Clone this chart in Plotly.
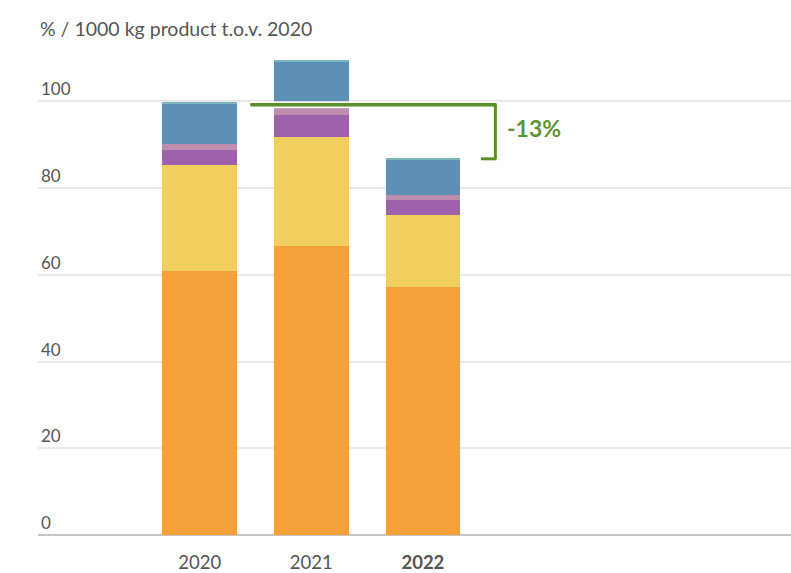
import plotly.graph_objects as go

years = ["2020", "2021", "2022"]
tick_labels = ["2020", "2021", "<b>2022</b>"]
orange = [60.9, 66.6, 57.2]
yellow = [24.4, 25.1, 16.5]
purple = [3.4, 5.1, 3.5]
light_purple = [1.4, 2.4, 1.2]
blue = [9.3, 10.0, 8.2]
teal = [0.3, 0.3, 0.15]
y_ticks = [0, 20, 40, 60, 80, 100]
change_label = "-13%"

series = [
    ("orange", orange, "#f5a13a"),
    ("yellow", yellow, "#f0cf5e"),
    ("purple", purple, "#9e62ad"),
    ("light purple", light_purple, "#bf8dae"),
    ("blue", blue, "#5e8fb6"),
    ("teal", teal, "#7db5bf"),
]

xpos = list(range(len(years)))
fig = go.Figure()
for name, vals, col in series:
    fig.add_trace(go.Bar(x=xpos, y=vals, name=name, marker=dict(color=col, line=dict(width=0)),
                         width=0.67, showlegend=False, hoverinfo="y"))

totals = [sum(s[1][i] for s in series) for i in range(len(years))]
ref = totals[0] - 0.5
end = totals[2]

green = "#5a8f2c"
fig.add_shape(type="line", x0=0.453, x1=2.66, y0=ref, y1=ref, xref="x", yref="y",
              line=dict(color="white", width=7), layer="above")
fig.add_shape(type="line", x0=0.453, x1=2.66, y0=ref, y1=ref, xref="x", yref="y",
              line=dict(color=green, width=3.5), layer="above")
fig.add_shape(type="line", x0=2.65, x1=2.65, y0=ref, y1=end, xref="x", yref="y",
              line=dict(color=green, width=3), layer="above")
fig.add_shape(type="line", x0=2.52, x1=2.66, y0=end, y1=end, xref="x", yref="y",
              line=dict(color=green, width=3), layer="above")
fig.add_annotation(x=2.74, y=(ref + end) / 2 + 0.8, xref="x", yref="y", text="<b>" + change_label + "</b>",
                   showarrow=False, xanchor="left", yanchor="middle",
                   font=dict(size=23, color="#5f9434", family="Lato"))

fig.add_annotation(x=0, y=1, xref="paper", yref="paper", text="% / 1000 kg product t.o.v. 2020",
                   showarrow=False, xanchor="left", yanchor="bottom", yshift=16,
                   font=dict(size=19.5, color="#555555", family="Lato"))

fig.update_layout(
    barmode="stack",
    width=791, height=573,
    margin=dict(l=38, r=0, t=58, b=36),
    plot_bgcolor="white", paper_bgcolor="white",
    font=dict(family="Lato", color="#555555", size=16),
    bargap=0,
)
fig.update_xaxes(range=[-1.45, 5.3], tickvals=xpos, ticktext=tick_labels, showgrid=False,
                 showline=False, zeroline=False, ticks="", ticklabelstandoff=14,
                 tickfont=dict(size=18.5, color="#555555"))
fig.update_yaxes(range=[0, 110], tickvals=y_ticks, showgrid=True, gridcolor="#e8e8e8", gridwidth=1.5,
                 zeroline=True, zerolinecolor="#c4c4c4", zerolinewidth=2,
                 ticklabelposition="inside top", ticks="", tickfont=dict(size=17, color="#555555"))

fig.write_html("out.html")
